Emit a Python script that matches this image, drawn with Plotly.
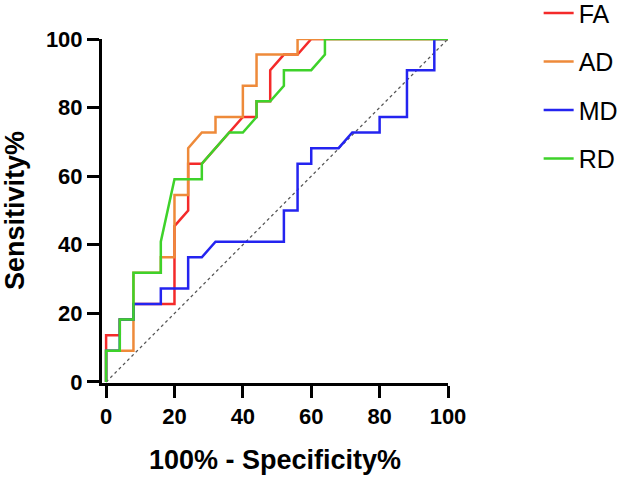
import plotly.graph_objects as go

# ROC curve data (x = 100% - Specificity%, y = Sensitivity%)
fa_x = [0, 0, 4, 4, 8, 8, 20, 20, 24, 24, 28, 40, 44, 44, 48, 48, 52, 56, 60, 100]
fa_y = [0, 13.64, 13.64, 18.18, 18.18, 22.73, 22.73, 45.45, 50, 63.64, 63.64, 77.27, 77.27, 81.82, 81.82, 90.91, 95.45, 95.45, 100, 100]

ad_x = [0, 0, 4, 8, 8, 8, 16, 16, 20, 20, 24, 24, 28, 32, 32, 40, 40, 44, 44, 56, 56, 100]
ad_y = [0, 9.09, 9.09, 9.09, 18.18, 31.82, 31.82, 36.36, 36.36, 54.55, 54.55, 68.18, 72.73, 72.73, 77.27, 77.27, 86.36, 86.36, 95.45, 95.45, 100, 100]

md_x = [0, 0, 4, 4, 8, 8, 16, 16, 24, 24, 28, 32, 52, 52, 56, 56, 60, 60, 68, 72, 80, 80, 88, 88, 96, 96, 100]
md_y = [0, 9.09, 9.09, 18.18, 18.18, 22.73, 22.73, 27.27, 27.27, 36.36, 36.36, 40.91, 40.91, 50, 50, 63.64, 63.64, 68.18, 68.18, 72.73, 72.73, 77.27, 77.27, 90.91, 90.91, 100, 100]

rd_x = [0, 0, 4, 4, 8, 8, 16, 16, 20, 28, 28, 36, 40, 44, 44, 48, 52, 52, 60, 64, 64, 100]
rd_y = [0, 9.09, 9.09, 18.18, 18.18, 31.82, 31.82, 40.91, 59.09, 59.09, 63.64, 72.73, 72.73, 77.27, 81.82, 81.82, 86.36, 90.91, 90.91, 95.45, 100, 100]

ref_x = [0, 100]
ref_y = [0, 100]

x_ticks = [0, 20, 40, 60, 80, 100]
y_ticks = [0, 20, 40, 60, 80, 100]

series = [
    ("FA", fa_x, fa_y, "#F42A2A"),
    ("AD", ad_x, ad_y, "#EE8A3A"),
    ("MD", md_x, md_y, "#2424F0"),
    ("RD", rd_x, rd_y, "#3ED22A"),
]

FONT = "Arial, Liberation Sans, sans-serif"

fig = go.Figure()
fig.add_trace(go.Scatter(x=ref_x, y=ref_y, mode="lines", showlegend=False,
                         line=dict(color="#555555", width=1.3, dash="dot"),
                         hoverinfo="skip"))
for name, xs, ys, col in series:
    fig.add_trace(go.Scatter(x=xs, y=ys, mode="lines", name=name, legendgroup=name,
                             line=dict(color=col, width=2.5)))

axis_common = dict(
    showline=True, linecolor="black", linewidth=3,
    ticks="outside", ticklen=12, tickwidth=3, tickcolor="black",
    showgrid=False, zeroline=False,
    tickfont=dict(family=FONT, size=22, color="black", weight="bold"),
)

fig.update_layout(
    width=633, height=478,
    margin=dict(l=102, r=185, t=39, b=95, autoexpand=False),
    plot_bgcolor="white", paper_bgcolor="white",
    xaxis=dict(range=[-1.2, 100], tickvals=x_ticks,
               title=dict(text="<b>100% - Specificity%</b>", font=dict(family=FONT, size=27, color="black"), standoff=22),
               **axis_common),
    yaxis=dict(range=[-0.3, 100], tickvals=y_ticks, **axis_common),
    legend=dict(x=1.262, y=1.142, xanchor="left", yanchor="top",
                font=dict(family=FONT, size=25, color="black"),
                tracegroupgap=13, bgcolor="rgba(0,0,0,0)"),
    showlegend=True,
    annotations=[dict(text="<b>Sensitivity%</b>", xref="paper", yref="paper",
                      x=-0.2514, y=0.5, xanchor="center", yanchor="middle",
                      textangle=-90, showarrow=False,
                      font=dict(family=FONT, size=27, color="black"))],
)

fig.write_html("out.html")
